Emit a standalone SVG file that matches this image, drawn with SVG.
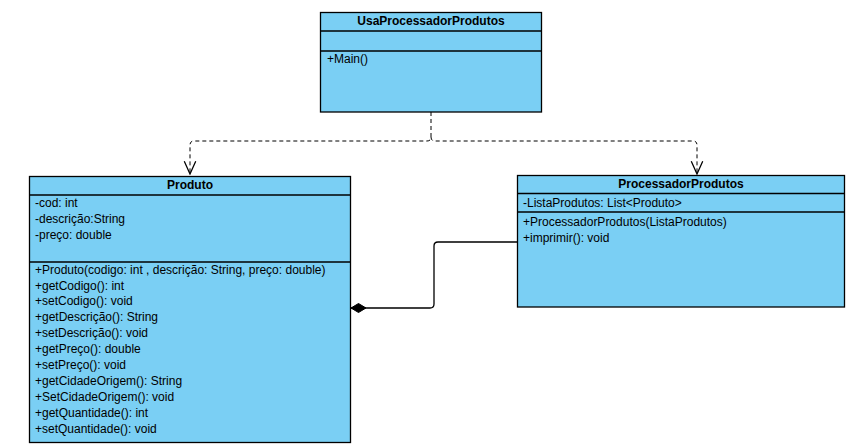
<svg xmlns="http://www.w3.org/2000/svg" width="867" height="445" viewBox="0 0 867 445">
<style>
.box{fill:#7acff4;stroke:#000;stroke-width:1.3}
.sep{stroke:#000;stroke-width:1.3}
text{font-family:"Liberation Sans",Arial,sans-serif;font-size:12px;fill:#000}
.t{font-weight:bold;text-anchor:middle;font-size:12px}
.dep{fill:none;stroke:#000;stroke-width:1;stroke-dasharray:4 3}
.comp{fill:none;stroke:#000;stroke-width:1.3}
</style>
<defs>
<marker id="open" markerUnits="userSpaceOnUse" markerWidth="14" markerHeight="14" refX="10" refY="5" orient="auto" viewBox="0 0 11 10">
<path d="M0,0.5 L10,5 L0,9.5" fill="none" stroke="#000" stroke-width="1"/>
</marker>
<marker id="diamond" markerUnits="userSpaceOnUse" markerWidth="18" markerHeight="12" refX="0" refY="6" orient="auto" viewBox="0 0 16 12">
<path d="M0.5,6 L8,1.5 L15.5,6 L8,10.5 Z" fill="#000" stroke="#000" stroke-linejoin="round"/>
</marker>
</defs>
<rect width="867" height="445" fill="#fff"/>
<g id="connectors">
<path class="dep" d="M431 112 V137 Q431 141 427 141 H194 Q190 141 190 145 V174" marker-end="url(#open)"/>
<path class="dep" d="M431 137 Q431 141 435 141 H693 Q697 141 697 145 V174" marker-end="url(#open)"/>
<path class="comp" d="M350.5 308 H430 Q434 308 434 304 V246 Q434 242 438 242 H517" marker-start="url(#diamond)"/>
</g>
<g id="UsaProcessadorProdutos">
<rect class="box" x="320.5" y="12.5" width="221" height="99.5"/>
<line class="sep" x1="320.5" y1="31" x2="541.5" y2="31"/>
<line class="sep" x1="320.5" y1="51" x2="541.5" y2="51"/>
<text class="t" x="431" y="25">UsaProcessadorProdutos</text>
<text x="327" y="63">+Main()</text>
</g>
<g id="Produto">
<rect class="box" x="29.5" y="176.5" width="321" height="266"/>
<line class="sep" x1="29.5" y1="195" x2="350.5" y2="195"/>
<line class="sep" x1="29.5" y1="262" x2="350.5" y2="262"/>
<text class="t" x="190" y="189">Produto</text>
<text x="35" y="207">-cod: int</text>
<text x="35" y="223">-descrição:String</text>
<text x="35" y="239">-preço: double</text>
<text x="35" y="274">+Produto(codigo: int , descrição: String, preço: double)</text>
<text x="35" y="290">+getCodigo(): int</text>
<text x="35" y="305">+setCodigo(): void</text>
<text x="35" y="321">+getDescrição(): String</text>
<text x="35" y="337">+setDescrição(): void</text>
<text x="35" y="353">+getPreço(): double</text>
<text x="35" y="369">+setPreço(): void</text>
<text x="35" y="385">+getCidadeOrigem(): String</text>
<text x="35" y="401">+SetCidadeOrigem(): void</text>
<text x="35" y="417">+getQuantidade(): int</text>
<text x="35" y="433">+setQuantidade(): void</text>
</g>
<g id="ProcessadorProdutos">
<rect class="box" x="517.5" y="175.5" width="327" height="131.5"/>
<line class="sep" x1="517.5" y1="193.5" x2="844.5" y2="193.5"/>
<line class="sep" x1="517.5" y1="212" x2="844.5" y2="212"/>
<text class="t" x="681" y="188">ProcessadorProdutos</text>
<text x="523" y="207">-ListaProdutos: List&lt;Produto&gt;</text>
<text x="523" y="226">+ProcessadorProdutos(ListaProdutos)</text>
<text x="523" y="242">+imprimir(): void</text>
</g>
</svg>
